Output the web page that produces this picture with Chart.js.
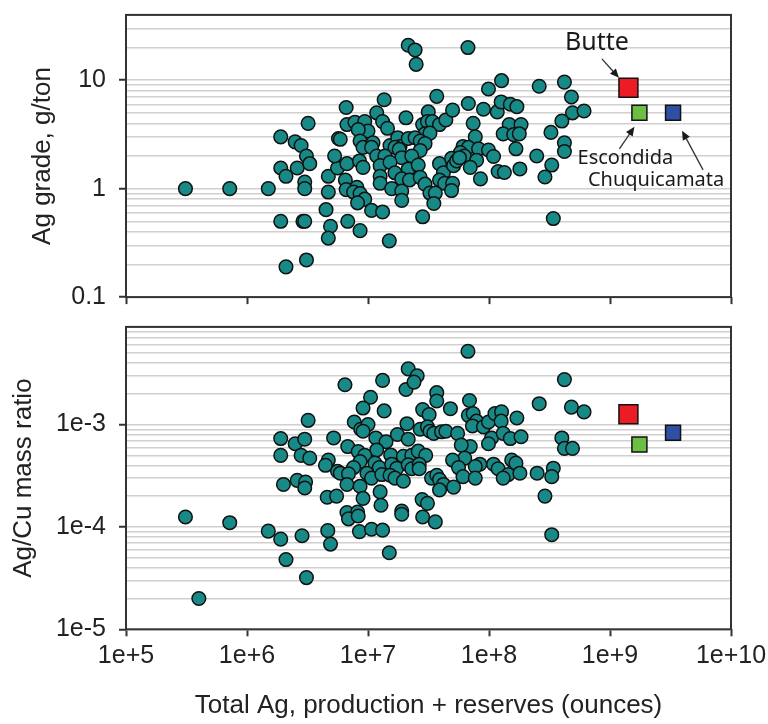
<!DOCTYPE html>
<html>
<head>
<meta charset="utf-8">
<script src="https://cdn.jsdelivr.net/npm/chart.js@4.4.1/dist/chart.umd.min.js"></script>
<style>
    body { margin: 0; background: #fff; }
    #wrap { position: relative; width: 768px; height: 724px; }
    canvas { position: absolute; left: 0; }
    #gradeChart { top: 0; }
    #ratioChart { top: 312px; }
</style>
</head>
<body>
<div id="wrap">
    <canvas id="gradeChart" width="768" height="312"></canvas>
    <canvas id="ratioChart" width="768" height="412"></canvas>
</div>
<script>
// Top panel: [total Ag (oz), Ag grade (g/ton)]
const gradePoints = [
    [3.1e5, 1.0], [7.2e5, 1.0], [1.5e6, 1.0], [1.9e6, 3.0], [1.9e6, 1.55], [2.1e6, 1.3], [1.9e6, 0.5], [2.1e6, 0.19],
    [2.5e6, 2.7], [2.6e6, 1.55], [2.8e6, 2.5], [2.9e6, 0.5], [3.0e6, 0.5], [3.1e6, 0.22], [3.2e6, 4.0], [3.1e6, 2.0],
    [3.3e6, 1.7], [3.0e6, 1.15], [3.0e6, 1.0], [4.5e6, 0.64], [4.9e6, 0.45], [4.7e6, 0.35], [4.7e6, 0.93], [4.7e6, 1.3],
    [5.6e6, 1.55], [5.3e6, 2.0], [5.7e6, 2.9], [6.6e6, 5.6], [6.7e6, 3.9], [6.7e6, 1.7], [6.5e6, 1.2], [6.6e6, 0.98], [6.8e6, 0.5],
    [2.15e7, 21], [2.45e7, 19], [2.5e7, 14], [3.7e7, 7.1], [1.36e7, 6.6], [1.18e7, 5.0], [2.06e7, 4.5], [3.15e7, 5.1],
    [1.32e7, 4.15], [7.8e6, 4.1], [9.4e6, 4.15], [1.0e7, 3.4], [8.3e6, 3.5], [1.45e7, 3.6], [2.83e7, 3.9], [3.1e7, 4.15],
    [3.4e7, 4.15], [3.9e7, 3.9], [4.4e7, 4.3], [2.96e7, 3.2], [3.25e7, 3.25], [5.9e6, 2.85], [8.6e6, 2.75], [9.1e6, 2.4],
    [1.1e7, 2.65], [1.07e7, 2.4], [1.52e7, 2.5], [1.76e7, 2.95], [1.84e7, 2.45], [2.15e7, 2.9], [2.45e7, 2.95], [2.7e7, 2.75],
    [2.96e7, 2.6], [2.7e7, 2.25], [1.67e7, 2.4], [1.81e7, 2.3], [1.18e7, 2.0], [1.38e7, 2.0], [1.9e7, 1.93], [2.3e7, 2.0],
    [8.5e6, 1.8], [9.1e6, 1.57], [1.26e7, 1.63], [1.52e7, 1.75], [1.67e7, 1.4], [2.15e7, 1.52], [2.6e7, 1.65], [3.9e7, 1.7],
    [4.2e7, 1.4], [1.26e7, 1.3], [1.26e7, 1.12], [1.9e7, 1.23], [2.2e7, 1.2], [2.7e7, 1.27], [2.96e7, 1.1], [3.9e7, 1.2], [4.3e7, 1.12],
    [8.1e6, 1.03], [7.6e6, 0.93], [8.6e6, 0.9], [9.4e6, 0.8], [8.2e6, 0.74], [1.57e7, 1.0], [1.9e7, 0.95], [1.9e7, 0.78],
    [3.25e7, 0.91], [3.6e7, 0.91], [3.5e7, 0.73], [1.07e7, 0.63], [1.32e7, 0.61], [2.83e7, 0.55], [8.6e6, 0.41], [1.5e7, 0.33],
    [6.7e7, 20], [1.27e8, 9.9], [9.9e7, 8.3], [2.6e8, 8.8], [6.75e7, 6.1], [9.0e7, 5.4], [1.17e8, 5.1], [1.26e8, 6.3], [1.5e8, 6.0],
    [1.7e8, 5.7], [5.0e7, 5.3], [7.4e7, 4.0], [1.47e8, 3.9], [1.84e8, 3.9], [1.31e8, 3.2], [1.6e8, 3.15], [1.78e8, 3.2], [3.25e8, 3.3],
    [7.7e7, 3.0], [6.1e7, 2.45], [6.75e7, 2.4], [5.8e7, 2.15], [6.25e7, 2.0], [8.2e7, 2.33], [9.9e7, 2.27], [1.09e8, 1.98], [1.67e8, 2.33],
    [2.48e8, 2.0], [7.9e7, 1.83], [7.0e7, 1.57], [4.9e7, 1.9], [5.1e7, 1.63], [5.4e7, 1.8], [5.7e7, 1.93], [1.19e8, 1.44], [1.34e8, 1.41],
    [1.8e8, 1.52], [2.9e8, 1.28], [8.5e7, 1.23], [5.0e7, 1.12], [4.9e7, 0.96], [3.4e8, 0.53], [4.2e8, 9.6], [4.8e8, 7.0], [4.9e8, 5.0],
    [6.1e8, 5.2], [4.0e8, 4.2], [4.2e8, 2.65], [4.2e8, 2.2], [3.3e8, 1.65]
];

// Bottom panel: [total Ag (oz), Ag/Cu mass ratio]
const ratioPoints = [
    [3.1e5, 1.25e-4], [4.0e5, 2.0e-5], [7.2e5, 1.1e-4], [1.5e6, 9.1e-5], [1.9e6, 7.6e-5], [2.1e6, 4.8e-5], [1.9e6, 7.3e-4], [1.9e6, 5.0e-4],
    [2.0e6, 2.6e-4], [2.5e6, 6.5e-4], [2.6e6, 2.85e-4], [2.8e6, 5.0e-4], [3.0e6, 7.2e-4], [3.2e6, 1.1e-3], [3.3e6, 4.7e-4], [3.05e6, 2.75e-4],
    [3.0e6, 2.4e-4], [2.85e6, 8.2e-5], [3.1e6, 3.2e-5], [4.65e6, 9.2e-5], [4.9e6, 6.8e-5], [4.6e6, 1.95e-4], [5.5e6, 2.0e-4], [4.7e6, 4.5e-4],
    [4.45e6, 4.0e-4], [5.2e6, 7.4e-4], [5.6e6, 3.5e-4], [5.9e6, 3.35e-4],
    [2.15e7, 3.5e-3], [2.55e7, 3.0e-3], [2.06e7, 2.2e-3], [2.4e7, 2.6e-3], [1.32e7, 2.7e-3], [6.45e6, 2.45e-3], [3.7e7, 2.05e-3], [3.7e7, 1.7e-3],
    [1.05e7, 1.85e-3], [9.1e6, 1.45e-3], [1.36e7, 1.36e-3], [2.83e7, 1.4e-3], [3.2e7, 1.25e-3], [4.8e7, 1.43e-3], [7.7e6, 1.06e-3], [8.7e6, 9.0e-4],
    [1.0e7, 1.0e-3], [9.1e6, 8.6e-4], [2.1e7, 1.02e-3], [2.7e7, 9.0e-4], [3.1e7, 9.5e-4], [3.25e7, 8.6e-4], [3.5e7, 8.2e-4], [4.05e7, 8.5e-4], [4.4e7, 8.6e-4],
    [1.75e7, 8.0e-4], [2.15e7, 7.2e-4], [1.16e7, 7.4e-4], [1.41e7, 6.8e-4], [6.8e6, 6.1e-4], [1.18e7, 5.65e-4], [1.54e7, 5.05e-4], [1.96e7, 4.9e-4],
    [2.3e7, 5.0e-4], [2.6e7, 5.5e-4], [3.0e7, 5.0e-4], [8.3e6, 5.45e-4], [9.4e6, 5.0e-4], [8.6e6, 4.35e-4], [7.6e6, 3.8e-4], [1.14e7, 4.2e-4],
    [1.24e7, 3.8e-4], [1.57e7, 4.1e-4], [1.73e7, 3.75e-4], [2.15e7, 4.05e-4], [2.3e7, 3.7e-4], [2.65e7, 4.1e-4], [2.65e7, 3.7e-4], [6.9e6, 3.3e-4],
    [9.8e6, 3.35e-4], [1.07e7, 3.0e-4], [1.3e7, 3.25e-4], [1.52e7, 3.2e-4], [1.67e7, 3.0e-4], [1.96e7, 2.8e-4], [3.35e7, 3.0e-4], [3.7e7, 3.2e-4],
    [3.9e7, 2.9e-4], [4.2e7, 2.6e-4], [3.9e7, 2.3e-4], [6.7e6, 2.6e-4], [8.6e6, 2.5e-4], [9.1e6, 1.9e-4], [1.26e7, 2.2e-4], [2.8e7, 1.85e-4],
    [3.1e7, 1.7e-4], [1.28e7, 1.63e-4], [6.7e6, 1.38e-4], [8.2e6, 1.4e-4], [6.9e6, 1.2e-4], [8.3e6, 1.28e-4], [1.9e7, 1.43e-4], [1.9e7, 1.33e-4],
    [2.83e7, 1.25e-4], [3.6e7, 1.12e-4], [8.5e6, 9.0e-5], [1.07e7, 9.5e-5], [1.32e7, 9.3e-5], [1.5e7, 5.6e-5],
    [6.7e7, 5.2e-3], [2.6e8, 1.6e-3], [6.9e7, 1.72e-3], [6.75e7, 1.23e-3], [7.4e7, 1.28e-3], [7.9e7, 1.08e-3], [7.3e7, 9.7e-4], [9.0e7, 9.5e-4],
    [9.9e7, 1.06e-3], [1.12e8, 1.28e-3], [1.27e8, 1.33e-3], [1.26e8, 1.08e-3], [1.7e8, 1.16e-3], [5.5e7, 8.2e-4], [1.05e8, 7.4e-4], [9.9e7, 6.5e-4],
    [1.31e8, 8.2e-4], [1.5e8, 7.3e-4], [1.84e8, 7.6e-4], [7.0e7, 6.1e-4], [5.9e7, 6.3e-4], [6.3e7, 4.7e-4], [5.0e7, 4.5e-4], [5.6e7, 3.8e-4], [8.4e7, 4.1e-4],
    [7.7e7, 3.9e-4], [1.09e8, 4.1e-4], [1.19e8, 3.7e-4], [1.54e8, 4.5e-4], [1.67e8, 4.2e-4], [1.44e8, 3.25e-4], [1.8e8, 3.35e-4], [1.31e8, 3.0e-4],
    [6.1e7, 3.1e-4], [7.7e7, 3.0e-4], [2.5e8, 3.35e-4], [5.1e7, 2.45e-4], [2.9e8, 2.0e-4], [3.3e8, 8.4e-5], [4.2e8, 2.75e-3], [4.8e8, 1.48e-3],
    [6.1e8, 1.33e-3], [4.0e8, 7.4e-4], [4.2e8, 5.85e-4], [4.9e8, 5.85e-4], [3.4e8, 3.75e-4], [3.3e8, 3.1e-4]
];

// highlighted deposits
const namedDeposits = ['Butte', 'Escondida', 'Chuquicamata'];
const namedTotalAg = [1.42e9, 1.75e9, 3.32e9];
const namedGrade = [8.5, 5.0, 5.0];
const namedRatio = [1.26e-3, 6.4e-4, 8.3e-4];

// tick labels
const xTickLabels = ['1e+5', '1e+6', '1e+7', '1e+8', '1e+9', '1e+10'];
const gradeTickLabels = ['0.1', '1', '10'];
const ratioTickLabels = ['1e-5', '1e-4', '1e-3'];

const FONT = '"Liberation Sans", Arial, sans-serif';
const TEXT = '#222222';
const TEAL = '#178a88';
const namedColors = ['#ec1c24', '#6dbe45', '#2f4fa2'];

Chart.defaults.font.family = FONT;
Chart.defaults.color = TEXT;

function logTicks(min, max) {
    const ticks = [];
    for (let e = Math.floor(Math.log10(min)); e <= Math.ceil(Math.log10(max)); e++) {
        for (let m = 1; m <= 9; m++) {
            const v = m * Math.pow(10, e);
            if (v >= min * 0.999 && v <= max * 1.001) ticks.push({ value: v });
        }
    }
    return ticks;
}

function decadeOf(v) {
    const e = Math.log10(v);
    return Math.abs(e - Math.round(e)) < 1e-6 ? Math.round(e) : null;
}

function tickMarkColor(ctx) {
    return ctx.tick && decadeOf(ctx.tick.value) !== null ? '#333' : 'rgba(0,0,0,0)';
}

function makeXScale(showLabels, height) {
    return {
        type: 'logarithmic',
        position: 'bottom',
        min: 1e5,
        max: 1e10,
        afterBuildTicks: s => { s.ticks = logTicks(s.min, s.max); },
        afterFit: s => { s.height = height; s.paddingLeft = 0; s.paddingRight = 0; },
        ticks: {
            display: showLabels,
            autoSkip: false,
            maxRotation: 0,
            minRotation: 0,
            padding: 5,
            color: TEXT,
            font: { size: 25 },
            callback: v => {
                const e = decadeOf(v);
                return e === null ? '' : (xTickLabels[e - 5] || '');
            }
        },
        grid: {
            drawOnChartArea: false,
            drawTicks: true,
            tickLength: 7,
            tickWidth: 2,
            tickColor: tickMarkColor
        },
        border: { display: false },
        title: {
            display: showLabels,
            text: 'Total Ag, production + reserves (ounces)',
            color: TEXT,
            font: { size: 26 },
            padding: { top: 0, bottom: 2.4 }
        }
    };
}

function makeYScale(min, max, labels, firstExp, title, titlePad) {
    return {
        type: 'logarithmic',
        min: min,
        max: max,
        afterBuildTicks: s => { s.ticks = logTicks(s.min, s.max); },
        afterFit: s => { s.width = 126; s.paddingTop = 0; s.paddingBottom = 0; },
        ticks: {
            autoSkip: false,
            padding: 13,
            color: TEXT,
            font: { size: 25 },
            callback: v => {
                const e = decadeOf(v);
                return e === null ? '' : (labels[e - firstExp] || '');
            }
        },
        grid: {
            color: '#d0d0d0',
            lineWidth: 1.5,
            tickLength: 7,
            tickWidth: 2,
            tickColor: tickMarkColor
        },
        border: { display: false },
        title: {
            display: true,
            text: title,
            color: TEXT,
            font: { size: 26 },
            padding: { top: titlePad, bottom: 0 }
        }
    };
}

function circleDataset(points) {
    return {
        data: points.map(p => ({ x: p[0], y: p[1] })),
        pointStyle: 'circle',
        pointRadius: 6.8,
        backgroundColor: TEAL,
        borderColor: '#111',
        borderWidth: 1.5
    };
}

function squareDatasets(values) {
    return namedDeposits.map((name, i) => ({
        label: name,
        data: [{ x: namedTotalAg[i], y: values[i] }],
        pointStyle: 'rect',
        pointRadius: i === 0 ? 13.4 : 10.6,
        backgroundColor: namedColors[i],
        borderColor: '#111',
        borderWidth: 1.5
    }));
}

const framePlugin = {
    id: 'frame',
    afterDraw(chart) {
        const { ctx, chartArea: a } = chart;
        ctx.save();
        ctx.strokeStyle = '#333';
        ctx.lineWidth = 2;
        ctx.strokeRect(a.left, a.top, a.right - a.left, a.bottom - a.top);
        ctx.restore();
    }
};

function arrow(ctx, x1, y1, x2, y2) {
    const ang = Math.atan2(y2 - y1, x2 - x1);
    const len = 9, half = 4;
    ctx.beginPath();
    ctx.moveTo(x1, y1);
    ctx.lineTo(x2 - Math.cos(ang) * len * 0.8, y2 - Math.sin(ang) * len * 0.8);
    ctx.stroke();
    ctx.beginPath();
    ctx.moveTo(x2, y2);
    ctx.lineTo(x2 - Math.cos(ang) * len - Math.sin(ang) * half, y2 - Math.sin(ang) * len + Math.cos(ang) * half);
    ctx.lineTo(x2 - Math.cos(ang) * len + Math.sin(ang) * half, y2 - Math.sin(ang) * len - Math.cos(ang) * half);
    ctx.closePath();
    ctx.fill();
}

const notesPlugin = {
    id: 'depositNotes',
    afterDatasetsDraw(chart) {
        const { ctx, scales: { x, y } } = chart;
        const px = i => x.getPixelForValue(namedTotalAg[i]);
        const py = i => y.getPixelForValue(namedGrade[i]);
        ctx.save();
        ctx.fillStyle = '#1a1a1a';
        ctx.strokeStyle = '#333';
        ctx.lineWidth = 1.3;
        ctx.textAlign = 'center';
        ctx.textBaseline = 'middle';
        ctx.font = '25px "Noto Sans"';
        ctx.fillText(namedDeposits[0], px(0) - 31.5, py(0) - 45);
        ctx.font = '20px "Noto Sans"';
        ctx.fillText(namedDeposits[1], px(1) - 14, py(1) + 45);
        ctx.fillText(namedDeposits[2], px(2) - 17, py(2) + 67);
        arrow(ctx, px(0) - 26.5, py(0) - 29, px(0) - 9.5, py(0) - 10);
        arrow(ctx, px(1) - 20, py(1) + 36, px(1) - 5, py(1) + 14);
        arrow(ctx, px(2) + 30, py(2) + 57, px(2) + 9, py(2) + 18);
        ctx.restore();
    }
};

const baseOptions = {
    responsive: false,
    animation: false,
    events: [],
    plugins: { legend: { display: false }, tooltip: { enabled: false } }
};

new Chart(document.getElementById('gradeChart'), {
    type: 'scatter',
    data: { datasets: [circleDataset(gradePoints), ...squareDatasets(namedGrade)] },
    options: {
        ...baseOptions,
        layout: { padding: { top: 12, right: 37, left: 0, bottom: 0 } },
        scales: {
            x: makeXScale(false, 14),
            y: makeYScale(0.1, 40, gradeTickLabels, -1, 'Ag grade, g/ton', 27)
        }
    },
    plugins: [framePlugin, notesPlugin]
});

new Chart(document.getElementById('ratioChart'), {
    type: 'scatter',
    data: { datasets: [circleDataset(ratioPoints), ...squareDatasets(namedRatio)] },
    options: {
        ...baseOptions,
        layout: { padding: { top: 12.3, right: 37, left: 0, bottom: 0 } },
        scales: {
            x: makeXScale(true, 94.7),
            y: makeYScale(1e-5, 9e-3, ratioTickLabels, -5, 'Ag/Cu mass ratio', 8)
        }
    },
    plugins: [framePlugin]
});
</script>
</body>
</html>
